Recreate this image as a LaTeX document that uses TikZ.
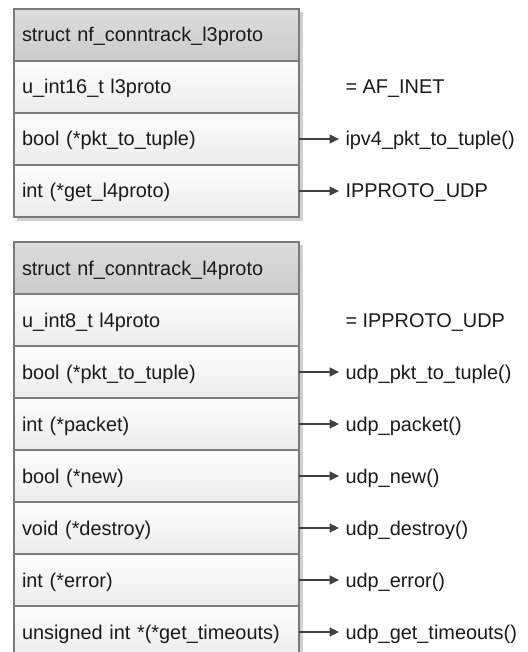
\documentclass[tikz,border=0pt]{standalone}
\usepackage{fontspec}
\setmainfont{Liberation Sans}
\usetikzlibrary{arrows.meta}
\definecolor{bordergray}{HTML}{7A7A7A}
\definecolor{arrowgray}{HTML}{404040}
\definecolor{rowtop}{HTML}{FCFCFC}
\definecolor{rowbot}{HTML}{ECECEC}
\definecolor{headtop}{HTML}{DCDCDC}
\definecolor{headbot}{HTML}{CBCBCB}
\definecolor{shadowgray}{HTML}{D0D0D0}
\definecolor{txt}{HTML}{1A1A1A}
\begin{document}
\begin{tikzpicture}[x=1pt,y=-1pt,
  txtfont/.style={font=\fontsize{19.9}{23.5}\selectfont, text=txt, text height=18pt, text depth=4pt},
  cell/.style={txtfont, draw=bordergray, line width=1.2pt, minimum width=285pt, minimum height=52pt,
    text width=269pt, align=left, inner xsep=8pt, inner ysep=0pt, outer sep=0pt,
    top color=rowtop, bottom color=rowbot, anchor=north west},
  head/.style={cell, top color=headtop, bottom color=headbot},
  lbl/.style={txtfont, anchor=west, inner xsep=6.5pt, inner ysep=0pt, outer sep=0pt},
  conn/.style={-{Triangle[length=9.5pt,width=9pt]}, line width=1.2pt, draw=arrowgray}]
\path[use as bounding box] (0,0) rectangle (527,652);
\clip (0,0) rectangle (527,652);
% shadows
\fill[shadowgray] (17,12) rectangle (302.5,220.5);
\fill[shadowgray] (17,245) rectangle (302.5,670);
% top struct
\node[head] (h1) at (14,9) {struct nf\_conntrack\_l3proto};
\node[cell] (a1) at (14,61) {u\_int16\_t l3proto};
\node[cell] (a2) at (14,113) {bool (*pkt\_to\_tuple)};
\node[cell] (a3) at (14,165) {int (*get\_l4proto)};
\node[lbl] (la1) at (339,87) {= AF\_INET};
\node[lbl] (la2) at (339,139) {ipv4\_pkt\_to\_tuple()};
\node[lbl] (la3) at (339,191) {IPPROTO\_UDP};
\draw[conn] (a2.east) -- (la2.west);
\draw[conn] (a3.east) -- (la3.west);
% bottom struct
\node[head] (h2) at (14,242) {struct nf\_conntrack\_l4proto};
\node[cell] (b1) at (14,294) {u\_int8\_t l4proto};
\node[cell] (b2) at (14,346) {bool (*pkt\_to\_tuple)};
\node[cell] (b3) at (14,398) {int (*packet)};
\node[cell] (b4) at (14,450) {bool (*new)};
\node[cell] (b5) at (14,502) {void (*destroy)};
\node[cell] (b6) at (14,554) {int (*error)};
\node[cell] (b7) at (14,606) {unsigned int *(*get\_timeouts)};
\node[lbl] (lb1) at (339,320) {= IPPROTO\_UDP};
\node[lbl] (lb2) at (339,372) {udp\_pkt\_to\_tuple()};
\node[lbl] (lb3) at (339,424) {udp\_packet()};
\node[lbl] (lb4) at (339,476) {udp\_new()};
\node[lbl] (lb5) at (339,528) {udp\_destroy()};
\node[lbl] (lb6) at (339,580) {udp\_error()};
\node[lbl] (lb7) at (339,632) {udp\_get\_timeouts()};
\foreach \i in {2,...,7} \draw[conn] (b\i.east) -- (lb\i.west);
\end{tikzpicture}
\end{document}
